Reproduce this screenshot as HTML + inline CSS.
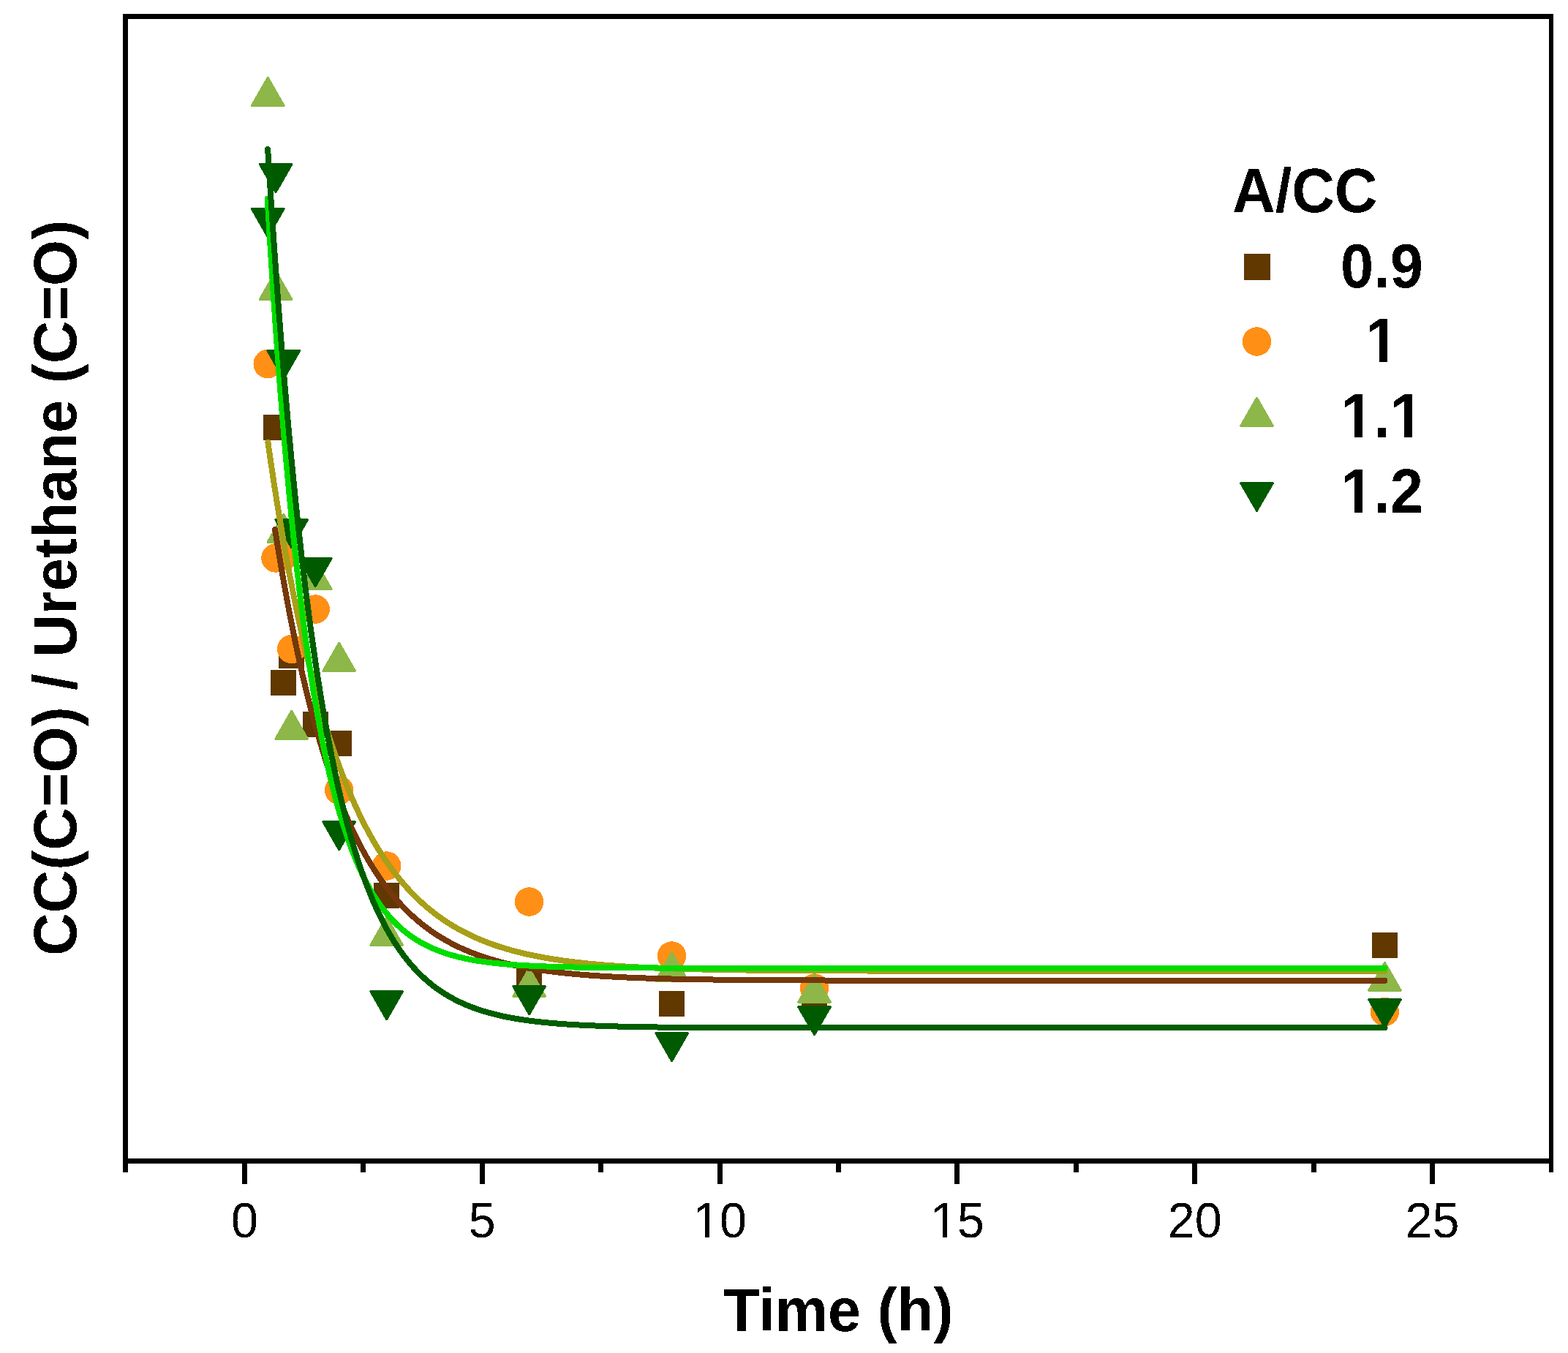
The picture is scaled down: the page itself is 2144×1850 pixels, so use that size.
<!DOCTYPE html>
<html><head><meta charset="utf-8"><title>CC(C=O) / Urethane (C=O) vs Time</title>
<style>
html,body{margin:0;padding:0;background:#fff;}
svg{display:block;}
.b{font-family:"Liberation Sans",Arial,sans-serif;font-weight:bold;font-size:81.2px;fill:#000;}
.tl{font-family:"Liberation Sans",Arial,sans-serif;font-size:66.5px;fill:#000;}
</style></head>
<body>
<svg width="2144" height="1850" viewBox="0 0 2144 1850">
<defs><filter id="bin" filterUnits="userSpaceOnUse" x="0" y="0" width="2144" height="1850"><feComponentTransfer><feFuncA type="discrete" tableValues="0 1"/></feComponentTransfer></filter></defs>
<rect width="2144" height="1850" fill="#fff"/>
<g id="markers" shape-rendering="crispEdges">
<rect x="359.5" y="566.5" width="35.0" height="35.0" fill="#603800"/>
<rect x="370.3" y="916.0" width="35.0" height="35.0" fill="#603800"/>
<rect x="381.2" y="878.5" width="35.0" height="35.0" fill="#603800"/>
<rect x="413.7" y="972.5" width="35.0" height="35.0" fill="#603800"/>
<rect x="446.2" y="999.0" width="35.0" height="35.0" fill="#603800"/>
<rect x="511.2" y="1207.0" width="35.0" height="35.0" fill="#603800"/>
<rect x="706.1" y="1322.5" width="35.0" height="35.0" fill="#603800"/>
<rect x="901.1" y="1354.9" width="35.0" height="35.0" fill="#603800"/>
<rect x="1096.1" y="1340.5" width="35.0" height="35.0" fill="#603800"/>
<rect x="1876.0" y="1275.0" width="35.0" height="35.0" fill="#603800"/>
<circle cx="366.2" cy="497.6" r="19.75" fill="#FF9015"/>
<circle cx="377.0" cy="763.0" r="19.75" fill="#FF9015"/>
<circle cx="387.8" cy="760.5" r="19.75" fill="#FF9015"/>
<circle cx="398.7" cy="887.5" r="19.75" fill="#FF9015"/>
<circle cx="431.2" cy="833.0" r="19.75" fill="#FF9015"/>
<circle cx="463.7" cy="1080.5" r="19.75" fill="#FF9015"/>
<circle cx="528.7" cy="1184.0" r="19.75" fill="#FF9015"/>
<circle cx="723.6" cy="1233.0" r="19.75" fill="#FF9015"/>
<circle cx="918.6" cy="1307.0" r="19.75" fill="#FF9015"/>
<circle cx="1113.6" cy="1351.0" r="19.75" fill="#FF9015"/>
<circle cx="1893.5" cy="1383.5" r="19.75" fill="#FF9015"/>
<polygon points="366.19,105.60 388.66,144.80 343.73,144.80" fill="#8DB748" stroke="#8DB748" stroke-width="2.4" stroke-linejoin="bevel"/>
<polygon points="377.05,370.60 399.51,409.80 354.59,409.80" fill="#8DB748" stroke="#8DB748" stroke-width="2.4" stroke-linejoin="bevel"/>
<polygon points="387.84,702.60 410.30,741.80 365.38,741.80" fill="#8DB748" stroke="#8DB748" stroke-width="2.4" stroke-linejoin="bevel"/>
<polygon points="398.69,971.60 421.15,1010.80 376.23,1010.80" fill="#8DB748" stroke="#8DB748" stroke-width="2.4" stroke-linejoin="bevel"/>
<polygon points="431.18,766.60 453.65,805.80 408.72,805.80" fill="#8DB748" stroke="#8DB748" stroke-width="2.4" stroke-linejoin="bevel"/>
<polygon points="463.68,878.60 486.14,917.80 441.22,917.80" fill="#8DB748" stroke="#8DB748" stroke-width="2.4" stroke-linejoin="bevel"/>
<polygon points="528.67,1253.60 551.13,1292.80 506.21,1292.80" fill="#8DB748" stroke="#8DB748" stroke-width="2.4" stroke-linejoin="bevel"/>
<polygon points="723.64,1323.60 746.10,1362.80 701.18,1362.80" fill="#8DB748" stroke="#8DB748" stroke-width="2.4" stroke-linejoin="bevel"/>
<polygon points="918.61,1302.20 941.07,1341.40 896.15,1341.40" fill="#8DB748" stroke="#8DB748" stroke-width="2.4" stroke-linejoin="bevel"/>
<polygon points="1113.58,1331.60 1136.04,1370.80 1091.12,1370.80" fill="#8DB748" stroke="#8DB748" stroke-width="2.4" stroke-linejoin="bevel"/>
<polygon points="1893.46,1315.60 1915.92,1354.80 1871.00,1354.80" fill="#8DB748" stroke="#8DB748" stroke-width="2.4" stroke-linejoin="bevel"/>
<polygon points="343.73,285.20 388.66,285.20 366.19,324.40" fill="#005A00" stroke="#005A00" stroke-width="2.4" stroke-linejoin="bevel"/>
<polygon points="354.59,224.20 399.51,224.20 377.05,263.40" fill="#005A00" stroke="#005A00" stroke-width="2.4" stroke-linejoin="bevel"/>
<polygon points="365.38,479.20 410.30,479.20 387.84,518.40" fill="#005A00" stroke="#005A00" stroke-width="2.4" stroke-linejoin="bevel"/>
<polygon points="376.23,710.20 421.15,710.20 398.69,749.40" fill="#005A00" stroke="#005A00" stroke-width="2.4" stroke-linejoin="bevel"/>
<polygon points="408.72,763.20 453.65,763.20 431.18,802.40" fill="#005A00" stroke="#005A00" stroke-width="2.4" stroke-linejoin="bevel"/>
<polygon points="441.22,1123.20 486.14,1123.20 463.68,1162.40" fill="#005A00" stroke="#005A00" stroke-width="2.4" stroke-linejoin="bevel"/>
<polygon points="506.21,1355.20 551.13,1355.20 528.67,1394.40" fill="#005A00" stroke="#005A00" stroke-width="2.4" stroke-linejoin="bevel"/>
<polygon points="701.18,1348.20 746.10,1348.20 723.64,1387.40" fill="#005A00" stroke="#005A00" stroke-width="2.4" stroke-linejoin="bevel"/>
<polygon points="896.15,1412.20 941.07,1412.20 918.61,1451.40" fill="#005A00" stroke="#005A00" stroke-width="2.4" stroke-linejoin="bevel"/>
<polygon points="1091.12,1376.20 1136.04,1376.20 1113.58,1415.40" fill="#005A00" stroke="#005A00" stroke-width="2.4" stroke-linejoin="bevel"/>
<polygon points="1871.00,1366.20 1915.92,1366.20 1893.46,1405.40" fill="#005A00" stroke="#005A00" stroke-width="2.4" stroke-linejoin="bevel"/>
</g>
<g id="fits" shape-rendering="crispEdges">
<path d="M366.40,605.00 L367.05,609.55 L367.70,614.07 L368.35,618.57 L369.00,623.03 L369.65,627.47 L370.30,631.88 L370.95,636.26 L371.60,640.61 L372.25,644.94 L372.90,649.24 L373.55,653.51 L374.20,657.75 L374.85,661.97 L375.50,666.17 L376.15,670.33 L376.80,674.47 L377.45,678.58 L378.10,682.67 L378.75,686.73 L379.40,690.77 L380.04,694.78 L380.69,698.76 L381.34,702.72 L381.99,706.66 L382.64,710.57 L383.29,714.46 L383.94,718.32 L384.59,722.15 L385.24,725.97 L385.89,729.76 L386.54,733.52 L387.19,737.26 L387.84,740.98 L388.49,744.67 L389.14,748.35 L389.79,751.99 L390.44,755.62 L391.09,759.22 L391.74,762.80 L392.39,766.36 L393.04,769.89 L393.69,773.41 L394.34,776.90 L394.99,780.36 L395.64,783.81 L396.28,787.23 L396.93,790.64 L397.58,794.02 L398.23,797.38 L398.88,800.72 L399.53,804.04 L400.18,807.34 L400.83,810.61 L401.48,813.87 L402.13,817.10 L402.78,820.32 L403.43,823.51 L404.08,826.69 L404.73,829.84 L405.38,832.98 L406.03,836.09 L406.68,839.19 L407.33,842.26 L407.98,845.32 L408.63,848.36 L409.28,851.38 L409.93,854.38 L410.58,857.36 L411.23,860.32 L411.88,863.26 L412.52,866.19 L413.17,869.09 L413.82,871.98 L414.47,874.85 L415.12,877.70 L415.77,880.54 L416.42,883.35 L417.07,886.15 L417.72,888.93 L418.37,891.69 L419.02,894.44 L419.67,897.17 L420.32,899.88 L420.97,902.57 L421.62,905.25 L422.27,907.91 L422.92,910.55 L423.57,913.18 L424.22,915.79 L424.87,918.38 L425.52,920.96 L426.17,923.52 L426.82,926.07 L427.47,928.60 L428.12,931.11 L428.76,933.61 L429.41,936.09 L430.06,938.55 L430.71,941.00 L431.36,943.44 L432.01,945.86 L432.66,948.26 L433.31,950.65 L433.96,953.03 L434.61,955.39 L435.26,957.73 L435.91,960.06 L436.56,962.38 L437.21,964.68 L437.86,966.96 L438.51,969.23 L439.16,971.49 L439.81,973.73 L440.46,975.96 L441.11,978.18 L441.76,980.38 L442.41,982.57 L443.06,984.74 L443.71,986.90 L444.36,989.05 L445.00,991.18 L445.65,993.30 L446.30,995.40 L446.95,997.50 L447.60,999.58 L448.25,1001.64 L448.90,1003.69 L449.55,1005.73 L450.20,1007.76 L450.85,1009.78 L451.50,1011.78 L452.15,1013.77 L452.80,1015.75 L453.45,1017.71 L454.10,1019.66 L454.75,1021.60 L455.40,1023.53 L456.05,1025.45 L456.70,1027.35 L457.35,1029.24 L458.00,1031.12 L458.65,1032.99 L459.30,1034.84 L459.95,1036.69 L460.60,1038.52 L461.24,1040.34 L461.89,1042.15 L462.54,1043.95 L463.19,1045.74 L463.84,1047.51 L464.49,1049.28 L465.14,1051.03 L465.79,1052.77 L466.44,1054.50 L467.09,1056.22 L467.74,1057.93 L468.39,1059.63 L469.04,1061.32 L469.69,1063.00 L470.34,1064.66 L470.99,1066.32 L471.64,1067.97 L472.29,1069.60 L472.94,1071.23 L473.59,1072.84 L474.24,1074.45 L474.89,1076.04 L475.54,1077.63 L476.19,1079.20 L476.84,1080.77 L477.48,1082.32 L478.13,1083.87 L478.78,1085.40 L479.43,1086.93 L480.08,1088.45 L480.73,1089.95 L481.38,1091.45 L482.03,1092.94 L482.68,1094.42 L483.33,1095.89 L483.98,1097.35 L484.63,1098.80 L485.28,1100.24 L485.93,1101.67 L486.58,1103.09 L487.23,1104.51 L487.88,1105.91 L488.53,1107.31 L489.18,1108.70 L489.83,1110.08 L490.48,1111.45 L491.13,1112.81 L491.78,1114.16 L492.43,1115.51 L493.08,1116.84 L493.72,1118.17 L494.37,1119.49 L495.02,1120.80 L495.67,1122.11 L496.32,1123.40 L496.97,1124.69 L497.62,1125.97 L498.27,1127.24 L498.92,1128.50 L499.57,1129.75 L500.22,1131.00 L500.87,1132.24 L501.52,1133.47 L502.17,1134.69 L502.82,1135.91 L503.47,1137.12 L504.12,1138.32 L504.77,1139.51 L505.42,1140.70 L506.07,1141.87 L506.72,1143.04 L507.37,1144.21 L508.02,1145.36 L508.67,1146.51 L509.32,1147.65 L509.96,1148.79 L510.61,1149.91 L511.26,1151.03 L511.91,1152.15 L512.56,1153.25 L513.21,1154.35 L513.86,1155.44 L514.51,1156.53 L515.16,1157.60 L515.81,1158.68 L516.46,1159.74 L517.11,1160.80 L517.76,1161.85 L518.41,1162.89 L519.06,1163.93 L519.71,1164.96 L520.36,1165.99 L521.01,1167.01 L521.66,1168.02 L522.31,1169.02 L522.96,1170.02 L523.61,1171.02 L524.26,1172.00 L524.91,1172.98 L525.56,1173.96 L526.20,1174.93 L526.85,1175.89 L527.50,1176.85 L528.15,1177.80 L528.80,1178.74 L529.45,1179.68 L530.10,1180.61 L530.75,1181.54 L531.40,1182.46 L532.05,1183.37 L532.70,1184.28 L533.35,1185.19 L534.00,1186.08 L534.65,1186.98 L535.30,1187.86 L535.95,1188.74 L536.60,1189.62 L537.25,1190.49 L537.90,1191.35 L538.55,1192.21 L539.20,1193.06 L539.85,1193.91 L540.50,1194.75 L541.15,1195.59 L541.80,1196.42 L542.44,1197.25 L543.09,1198.07 L543.74,1198.89 L544.39,1199.70 L545.04,1200.51 L545.69,1201.31 L546.34,1202.10 L546.99,1202.90 L547.64,1203.68 L548.29,1204.46 L548.94,1205.24 L549.59,1206.01 L550.24,1206.78 L550.89,1207.54 L551.54,1208.30 L552.19,1209.05 L552.84,1209.80 L553.49,1210.54 L554.14,1211.28 L554.79,1212.01 L555.44,1212.74 L556.09,1213.46 L556.74,1214.18 L557.39,1214.90 L558.04,1215.61 L558.68,1216.31 L559.33,1217.02 L559.98,1217.71 L560.63,1218.41 L561.28,1219.09 L561.93,1219.78 L562.58,1220.46 L563.23,1221.13 L563.88,1221.81 L564.53,1222.47 L565.18,1223.14 L565.83,1223.79 L566.48,1224.45 L567.13,1225.10 L567.78,1225.75 L568.43,1226.39 L569.08,1227.03 L569.73,1227.66 L570.38,1228.29 L571.03,1228.92 L571.68,1229.54 L572.33,1230.16 L572.98,1230.77 L573.63,1231.38 L574.28,1231.99 L574.92,1232.59 L575.57,1233.19 L576.22,1233.79 L576.87,1234.38 L577.52,1234.97 L578.17,1235.55 L578.82,1236.13 L579.47,1236.71 L580.12,1237.28 L580.77,1237.85 L581.42,1238.42 L582.07,1238.98 L582.72,1239.54 L583.37,1240.09 L584.02,1240.65 L584.67,1241.19 L585.32,1241.74 L585.97,1242.28 L586.62,1242.82 L587.27,1243.35 L587.92,1243.89 L588.57,1244.41 L589.22,1244.94 L589.87,1245.46 L590.52,1245.98 L591.16,1246.49 L591.81,1247.00 L592.46,1247.51 L593.11,1248.02 L593.76,1248.52 L594.41,1249.02 L595.06,1249.51 L595.71,1250.01 L596.36,1250.50 L597.01,1250.98 L597.66,1251.47 L598.31,1251.95 L598.96,1252.42 L599.61,1252.90 L600.26,1253.37 L600.91,1253.84 L601.56,1254.30 L602.21,1254.77 L602.86,1255.23 L603.51,1255.68 L604.16,1256.14 L604.81,1256.59 L605.46,1257.04 L606.11,1257.48 L606.76,1257.92 L607.40,1258.36 L608.05,1258.80 L608.70,1259.23 L609.35,1259.67 L610.00,1260.09 L610.65,1260.52 L611.30,1260.94 L611.95,1261.36 L612.60,1261.78 L613.25,1262.20 L613.90,1262.61 L614.55,1263.02 L615.20,1263.43 L615.85,1263.83 L616.50,1264.24 L617.15,1264.64 L617.80,1265.03 L618.45,1265.43 L619.10,1265.82 L619.75,1266.21 L620.40,1266.60 L621.05,1266.98 L621.70,1267.37 L622.35,1267.75 L623.00,1268.12 L623.64,1268.50 L624.29,1268.87 L624.94,1269.24 L625.59,1269.61 L626.24,1269.98 L626.89,1270.34 L627.54,1270.70 L628.19,1271.06 L628.84,1271.42 L629.49,1271.77 L630.14,1272.13 L630.79,1272.48 L631.44,1272.83 L632.09,1273.17 L632.74,1273.51 L633.39,1273.86 L634.04,1274.20 L634.69,1274.53 L635.34,1274.87 L635.99,1275.20 L636.64,1275.53 L637.29,1275.86 L637.94,1276.19 L638.59,1276.51 L639.24,1276.83 L639.88,1277.16 L640.53,1277.47 L641.18,1277.79 L641.83,1278.11 L642.48,1278.42 L643.13,1278.73 L643.78,1279.04 L644.43,1279.34 L645.08,1279.65 L645.73,1279.95 L646.38,1280.25 L647.03,1280.55 L647.68,1280.85 L648.33,1281.14 L648.98,1281.44 L649.63,1281.73 L650.28,1282.02 L650.93,1282.31 L651.58,1282.59 L652.23,1282.88 L652.88,1283.16 L653.53,1283.44 L654.18,1283.72 L654.83,1284.00 L655.48,1284.27 L656.12,1284.55 L656.77,1284.82 L657.42,1285.09 L658.07,1285.36 L658.72,1285.63 L659.37,1285.89 L660.02,1286.15 L660.67,1286.42 L661.32,1286.68 L661.97,1286.93 L662.62,1287.19 L663.27,1287.45 L663.92,1287.70 L664.57,1287.95 L665.22,1288.20 L665.87,1288.45 L666.52,1288.70 L667.17,1288.95 L667.82,1289.19 L668.47,1289.43 L669.12,1289.67 L669.77,1289.91 L670.42,1290.15 L671.07,1290.39 L671.72,1290.63 L672.36,1290.86 L673.01,1291.09 L673.66,1291.32 L674.31,1291.55 L674.96,1291.78 L675.61,1292.01 L676.26,1292.23 L676.91,1292.45 L677.56,1292.68 L678.21,1292.90 L678.86,1293.12 L679.51,1293.34 L680.16,1293.55 L680.81,1293.77 L681.46,1293.98 L682.11,1294.19 L682.76,1294.41 L683.41,1294.62 L684.06,1294.82 L684.71,1295.03 L685.36,1295.24 L686.01,1295.44 L686.66,1295.65 L687.31,1295.85 L687.96,1296.05 L688.60,1296.25 L689.25,1296.45 L689.90,1296.64 L690.55,1296.84 L691.20,1297.03 L691.85,1297.23 L692.50,1297.42 L693.15,1297.61 L693.80,1297.80 L694.45,1297.99 L695.10,1298.18 L695.75,1298.36 L696.40,1298.55 L697.05,1298.73 L697.70,1298.92 L698.35,1299.10 L699.00,1299.28 L699.65,1299.46 L700.30,1299.64 L700.95,1299.81 L701.60,1299.99 L702.25,1300.16 L702.90,1300.34 L703.55,1300.51 L704.20,1300.68 L704.84,1300.85 L705.49,1301.02 L706.14,1301.19 L706.79,1301.36 L707.44,1301.52 L708.09,1301.69 L708.74,1301.85 L709.39,1302.02 L710.04,1302.18 L710.69,1302.34 L711.34,1302.50 L711.99,1302.66 L712.64,1302.82 L713.29,1302.97 L713.94,1303.13 L714.59,1303.28 L715.24,1303.44 L715.89,1303.59 L716.54,1303.74 L717.19,1303.89 L717.84,1304.04 L718.49,1304.19 L719.14,1304.34 L719.79,1304.49 L720.44,1304.64 L721.08,1304.78 L721.73,1304.93 L722.38,1305.07 L723.03,1305.21 L723.68,1305.36 L724.33,1305.50 L730.83,1306.86 L737.32,1308.14 L743.82,1309.34 L750.32,1310.47 L756.81,1311.53 L763.31,1312.52 L769.80,1313.45 L776.30,1314.33 L782.80,1315.15 L789.29,1315.92 L795.79,1316.65 L802.28,1317.33 L808.78,1317.96 L815.28,1318.56 L821.77,1319.13 L828.27,1319.66 L834.76,1320.15 L841.26,1320.62 L847.76,1321.05 L854.25,1321.46 L860.75,1321.85 L867.24,1322.21 L873.74,1322.55 L880.24,1322.87 L886.73,1323.17 L893.23,1323.45 L899.72,1323.71 L906.22,1323.96 L912.72,1324.19 L919.21,1324.41 L925.71,1324.62 L932.20,1324.81 L938.70,1324.99 L945.20,1325.16 L951.69,1325.32 L958.19,1325.47 L964.68,1325.61 L971.18,1325.74 L977.68,1325.86 L984.17,1325.98 L990.67,1326.09 L997.16,1326.19 L1003.66,1326.29 L1010.16,1326.38 L1016.65,1326.46 L1023.15,1326.54 L1029.64,1326.62 L1036.14,1326.69 L1042.64,1326.75 L1049.13,1326.81 L1055.63,1326.87 L1062.12,1326.93 L1068.62,1326.98 L1075.12,1327.02 L1081.61,1327.07 L1088.11,1327.11 L1094.60,1327.15 L1101.10,1327.19 L1107.60,1327.22 L1114.09,1327.26 L1120.59,1327.29 L1127.08,1327.32 L1133.58,1327.34 L1140.08,1327.37 L1146.57,1327.39 L1153.07,1327.42 L1159.56,1327.44 L1166.06,1327.46 L1172.56,1327.47 L1179.05,1327.49 L1185.55,1327.51 L1192.04,1327.52 L1198.54,1327.54 L1205.04,1327.55 L1211.53,1327.56 L1218.03,1327.58 L1224.52,1327.59 L1231.02,1327.60 L1237.52,1327.61 L1244.01,1327.62 L1250.51,1327.63 L1257.00,1327.63 L1263.50,1327.64 L1270.00,1327.65 L1276.49,1327.66 L1282.99,1327.66 L1289.48,1327.67 L1295.98,1327.67 L1302.48,1327.68 L1308.97,1327.68 L1315.47,1327.69 L1321.96,1327.69 L1328.46,1327.70 L1334.96,1327.70 L1341.45,1327.70 L1347.95,1327.71 L1354.44,1327.71 L1360.94,1327.71 L1367.44,1327.72 L1373.93,1327.72 L1380.43,1327.72 L1386.92,1327.72 L1393.42,1327.73 L1399.92,1327.73 L1406.41,1327.73 L1412.91,1327.73 L1419.40,1327.73 L1425.90,1327.74 L1432.40,1327.74 L1438.89,1327.74 L1445.39,1327.74 L1451.88,1327.74 L1458.38,1327.74 L1464.88,1327.74 L1471.37,1327.74 L1477.87,1327.75 L1484.36,1327.75 L1490.86,1327.75 L1497.36,1327.75 L1503.85,1327.75 L1510.35,1327.75 L1516.84,1327.75 L1523.34,1327.75 L1529.84,1327.75 L1536.33,1327.75 L1542.83,1327.75 L1549.32,1327.75 L1555.82,1327.75 L1562.32,1327.75 L1568.81,1327.75 L1575.31,1327.75 L1581.80,1327.75 L1588.30,1327.75 L1594.80,1327.76 L1601.29,1327.76 L1607.79,1327.76 L1614.28,1327.76 L1620.78,1327.76 L1627.28,1327.76 L1633.77,1327.76 L1640.27,1327.76 L1646.76,1327.76 L1653.26,1327.76 L1659.76,1327.76 L1666.25,1327.76 L1672.75,1327.76 L1679.24,1327.76 L1685.74,1327.76 L1692.24,1327.76 L1698.73,1327.76 L1705.23,1327.76 L1711.72,1327.76 L1718.22,1327.76 L1724.72,1327.76 L1731.21,1327.76 L1737.71,1327.76 L1744.20,1327.76 L1750.70,1327.76 L1757.20,1327.76 L1763.69,1327.76 L1770.19,1327.76 L1776.68,1327.76 L1783.18,1327.76 L1789.68,1327.76 L1796.17,1327.76 L1802.67,1327.76 L1809.16,1327.76 L1815.66,1327.76 L1822.16,1327.76 L1828.65,1327.76 L1835.15,1327.76 L1841.64,1327.76 L1848.14,1327.76 L1854.64,1327.76 L1861.13,1327.76 L1867.63,1327.76 L1874.12,1327.76 L1880.62,1327.76 L1887.12,1327.76 L1893.54,1327.76" fill="none" stroke="#A89F18" stroke-width="8" stroke-linecap="round" stroke-linejoin="round"/>
<path d="M376.07,724.00 L376.72,728.13 L377.37,732.24 L378.02,736.31 L378.67,740.36 L379.32,744.39 L379.97,748.38 L380.62,752.35 L381.27,756.30 L381.92,760.21 L382.57,764.10 L383.22,767.97 L383.87,771.80 L384.52,775.62 L385.17,779.40 L385.81,783.16 L386.46,786.90 L387.11,790.61 L387.76,794.30 L388.41,797.96 L389.06,801.60 L389.71,805.21 L390.36,808.80 L391.01,812.36 L391.66,815.90 L392.31,819.42 L392.96,822.91 L393.61,826.38 L394.26,829.83 L394.91,833.25 L395.56,836.65 L396.21,840.03 L396.86,843.39 L397.51,846.72 L398.16,850.03 L398.81,853.32 L399.46,856.58 L400.11,859.83 L400.76,863.05 L401.41,866.25 L402.05,869.43 L402.70,872.59 L403.35,875.72 L404.00,878.84 L404.65,881.94 L405.30,885.01 L405.95,888.06 L406.60,891.10 L407.25,894.11 L407.90,897.10 L408.55,900.08 L409.20,903.03 L409.85,905.96 L410.50,908.87 L411.15,911.77 L411.80,914.64 L412.45,917.50 L413.10,920.33 L413.75,923.15 L414.40,925.95 L415.05,928.73 L415.70,931.49 L416.35,934.23 L417.00,936.96 L417.65,939.66 L418.29,942.35 L418.94,945.02 L419.59,947.67 L420.24,950.30 L420.89,952.92 L421.54,955.52 L422.19,958.10 L422.84,960.66 L423.49,963.21 L424.14,965.74 L424.79,968.25 L425.44,970.75 L426.09,973.23 L426.74,975.69 L427.39,978.14 L428.04,980.57 L428.69,982.98 L429.34,985.38 L429.99,987.76 L430.64,990.12 L431.29,992.47 L431.94,994.81 L432.59,997.13 L433.24,999.43 L433.89,1001.71 L434.53,1003.99 L435.18,1006.24 L435.83,1008.48 L436.48,1010.71 L437.13,1012.92 L437.78,1015.12 L438.43,1017.30 L439.08,1019.47 L439.73,1021.62 L440.38,1023.76 L441.03,1025.88 L441.68,1027.99 L442.33,1030.09 L442.98,1032.17 L443.63,1034.24 L444.28,1036.29 L444.93,1038.33 L445.58,1040.36 L446.23,1042.37 L446.88,1044.37 L447.53,1046.36 L448.18,1048.33 L448.83,1050.29 L449.48,1052.24 L450.13,1054.17 L450.77,1056.09 L451.42,1058.00 L452.07,1059.89 L452.72,1061.77 L453.37,1063.64 L454.02,1065.50 L454.67,1067.34 L455.32,1069.18 L455.97,1071.00 L456.62,1072.80 L457.27,1074.60 L457.92,1076.38 L458.57,1078.15 L459.22,1079.91 L459.87,1081.66 L460.52,1083.40 L461.17,1085.12 L461.82,1086.83 L462.47,1088.54 L463.12,1090.23 L463.77,1091.90 L464.42,1093.57 L465.07,1095.23 L465.72,1096.87 L466.37,1098.51 L467.01,1100.13 L467.66,1101.74 L468.31,1103.34 L468.96,1104.93 L469.61,1106.51 L470.26,1108.08 L470.91,1109.64 L471.56,1111.19 L472.21,1112.73 L472.86,1114.26 L473.51,1115.78 L474.16,1117.28 L474.81,1118.78 L475.46,1120.27 L476.11,1121.75 L476.76,1123.21 L477.41,1124.67 L478.06,1126.12 L478.71,1127.56 L479.36,1128.99 L480.01,1130.40 L480.66,1131.81 L481.31,1133.21 L481.96,1134.60 L482.61,1135.99 L483.25,1137.36 L483.90,1138.72 L484.55,1140.07 L485.20,1141.42 L485.85,1142.75 L486.50,1144.08 L487.15,1145.40 L487.80,1146.71 L488.45,1148.01 L489.10,1149.30 L489.75,1150.58 L490.40,1151.86 L491.05,1153.12 L491.70,1154.38 L492.35,1155.63 L493.00,1156.87 L493.65,1158.10 L494.30,1159.33 L494.95,1160.54 L495.60,1161.75 L496.25,1162.95 L496.90,1164.14 L497.55,1165.32 L498.20,1166.50 L498.85,1167.67 L499.49,1168.83 L500.14,1169.98 L500.79,1171.12 L501.44,1172.26 L502.09,1173.39 L502.74,1174.51 L503.39,1175.62 L504.04,1176.73 L504.69,1177.83 L505.34,1178.92 L505.99,1180.01 L506.64,1181.08 L507.29,1182.15 L507.94,1183.22 L508.59,1184.27 L509.24,1185.32 L509.89,1186.36 L510.54,1187.40 L511.19,1188.42 L511.84,1189.44 L512.49,1190.46 L513.14,1191.46 L513.79,1192.46 L514.44,1193.46 L515.09,1194.45 L515.73,1195.43 L516.38,1196.40 L517.03,1197.37 L517.68,1198.33 L518.33,1199.28 L518.98,1200.23 L519.63,1201.17 L520.28,1202.11 L520.93,1203.04 L521.58,1203.96 L522.23,1204.88 L522.88,1205.79 L523.53,1206.69 L524.18,1207.59 L524.83,1208.48 L525.48,1209.37 L526.13,1210.25 L526.78,1211.12 L527.43,1211.99 L528.08,1212.85 L528.73,1213.71 L529.38,1214.56 L530.03,1215.41 L530.68,1216.25 L531.33,1217.08 L531.97,1217.91 L532.62,1218.73 L533.27,1219.55 L533.92,1220.36 L534.57,1221.17 L535.22,1221.97 L535.87,1222.77 L536.52,1223.56 L537.17,1224.34 L537.82,1225.12 L538.47,1225.90 L539.12,1226.67 L539.77,1227.43 L540.42,1228.19 L541.07,1228.95 L541.72,1229.70 L542.37,1230.44 L543.02,1231.18 L543.67,1231.91 L544.32,1232.64 L544.97,1233.37 L545.62,1234.09 L546.27,1234.80 L546.92,1235.51 L547.57,1236.22 L548.21,1236.92 L548.86,1237.61 L549.51,1238.30 L550.16,1238.99 L550.81,1239.67 L551.46,1240.35 L552.11,1241.02 L552.76,1241.69 L553.41,1242.35 L554.06,1243.01 L554.71,1243.67 L555.36,1244.32 L556.01,1244.97 L556.66,1245.61 L557.31,1246.24 L557.96,1246.88 L558.61,1247.51 L559.26,1248.13 L559.91,1248.75 L560.56,1249.37 L561.21,1249.98 L561.86,1250.59 L562.51,1251.19 L563.16,1251.79 L563.81,1252.39 L564.45,1252.98 L565.10,1253.57 L565.75,1254.15 L566.40,1254.73 L567.05,1255.31 L567.70,1255.88 L568.35,1256.45 L569.00,1257.02 L569.65,1257.58 L570.30,1258.14 L570.95,1258.69 L571.60,1259.24 L572.25,1259.79 L572.90,1260.33 L573.55,1260.87 L574.20,1261.40 L574.85,1261.93 L575.50,1262.46 L576.15,1262.99 L576.80,1263.51 L577.45,1264.03 L578.10,1264.54 L578.75,1265.05 L579.40,1265.56 L580.05,1266.06 L580.69,1266.56 L581.34,1267.06 L581.99,1267.55 L582.64,1268.04 L583.29,1268.53 L583.94,1269.01 L584.59,1269.50 L585.24,1269.97 L585.89,1270.45 L586.54,1270.92 L587.19,1271.39 L587.84,1271.85 L588.49,1272.31 L589.14,1272.77 L589.79,1273.23 L590.44,1273.68 L591.09,1274.13 L591.74,1274.58 L592.39,1275.02 L593.04,1275.46 L593.69,1275.90 L594.34,1276.33 L594.99,1276.76 L595.64,1277.19 L596.29,1277.62 L596.93,1278.04 L597.58,1278.46 L598.23,1278.88 L598.88,1279.29 L599.53,1279.71 L600.18,1280.11 L600.83,1280.52 L601.48,1280.92 L602.13,1281.33 L602.78,1281.72 L603.43,1282.12 L604.08,1282.51 L604.73,1282.90 L605.38,1283.29 L606.03,1283.68 L606.68,1284.06 L607.33,1284.44 L607.98,1284.82 L608.63,1285.19 L609.28,1285.56 L609.93,1285.93 L610.58,1286.30 L611.23,1286.66 L611.88,1287.03 L612.53,1287.39 L613.17,1287.74 L613.82,1288.10 L614.47,1288.45 L615.12,1288.80 L615.77,1289.15 L616.42,1289.50 L617.07,1289.84 L617.72,1290.18 L618.37,1290.52 L619.02,1290.86 L619.67,1291.19 L620.32,1291.52 L620.97,1291.85 L621.62,1292.18 L622.27,1292.51 L622.92,1292.83 L623.57,1293.15 L624.22,1293.47 L624.87,1293.79 L625.52,1294.10 L626.17,1294.41 L626.82,1294.73 L627.47,1295.03 L628.12,1295.34 L628.77,1295.64 L629.41,1295.95 L630.06,1296.25 L630.71,1296.55 L631.36,1296.84 L632.01,1297.14 L632.66,1297.43 L633.31,1297.72 L633.96,1298.01 L634.61,1298.29 L635.26,1298.58 L635.91,1298.86 L636.56,1299.14 L637.21,1299.42 L637.86,1299.70 L638.51,1299.97 L639.16,1300.25 L639.81,1300.52 L640.46,1300.79 L641.11,1301.05 L641.76,1301.32 L642.41,1301.58 L643.06,1301.85 L643.71,1302.11 L644.36,1302.37 L645.01,1302.62 L645.65,1302.88 L646.30,1303.13 L646.95,1303.39 L647.60,1303.64 L648.25,1303.88 L648.90,1304.13 L649.55,1304.38 L650.20,1304.62 L650.85,1304.86 L651.50,1305.10 L652.15,1305.34 L652.80,1305.58 L653.45,1305.82 L654.10,1306.05 L654.75,1306.28 L655.40,1306.51 L656.05,1306.74 L656.70,1306.97 L657.35,1307.20 L658.00,1307.42 L658.65,1307.65 L659.30,1307.87 L659.95,1308.09 L660.60,1308.31 L661.25,1308.52 L661.89,1308.74 L662.54,1308.95 L663.19,1309.17 L663.84,1309.38 L664.49,1309.59 L665.14,1309.80 L665.79,1310.01 L666.44,1310.21 L667.09,1310.42 L667.74,1310.62 L668.39,1310.82 L669.04,1311.02 L669.69,1311.22 L670.34,1311.42 L670.99,1311.62 L671.64,1311.81 L672.29,1312.01 L672.94,1312.20 L673.59,1312.39 L674.24,1312.58 L674.89,1312.77 L675.54,1312.96 L676.19,1313.14 L676.84,1313.33 L677.49,1313.51 L678.13,1313.69 L678.78,1313.88 L679.43,1314.06 L680.08,1314.23 L680.73,1314.41 L681.38,1314.59 L682.03,1314.76 L682.68,1314.94 L683.33,1315.11 L683.98,1315.28 L684.63,1315.45 L685.28,1315.62 L685.93,1315.79 L686.58,1315.96 L687.23,1316.13 L687.88,1316.29 L688.53,1316.45 L689.18,1316.62 L689.83,1316.78 L690.48,1316.94 L691.13,1317.10 L691.78,1317.26 L692.43,1317.42 L693.08,1317.57 L693.73,1317.73 L694.37,1317.88 L695.02,1318.03 L695.67,1318.19 L696.32,1318.34 L696.97,1318.49 L697.62,1318.64 L698.27,1318.79 L698.92,1318.93 L699.57,1319.08 L700.22,1319.22 L700.87,1319.37 L701.52,1319.51 L702.17,1319.65 L702.82,1319.80 L703.47,1319.94 L704.12,1320.08 L704.77,1320.21 L705.42,1320.35 L706.07,1320.49 L706.72,1320.62 L707.37,1320.76 L708.02,1320.89 L708.67,1321.03 L709.32,1321.16 L709.97,1321.29 L710.61,1321.42 L711.26,1321.55 L711.91,1321.68 L712.56,1321.81 L713.21,1321.93 L713.86,1322.06 L714.51,1322.19 L715.16,1322.31 L715.81,1322.43 L716.46,1322.56 L717.11,1322.68 L717.76,1322.80 L718.41,1322.92 L719.06,1323.04 L719.71,1323.16 L720.36,1323.28 L721.01,1323.39 L721.66,1323.51 L722.31,1323.63 L722.96,1323.74 L723.61,1323.85 L724.26,1323.97 L724.91,1324.08 L731.40,1325.16 L737.90,1326.18 L744.39,1327.13 L750.89,1328.01 L757.39,1328.84 L763.88,1329.62 L770.38,1330.34 L776.87,1331.02 L783.37,1331.65 L789.87,1332.24 L796.36,1332.80 L802.86,1333.32 L809.35,1333.80 L815.85,1334.25 L822.35,1334.68 L828.84,1335.07 L835.34,1335.44 L841.83,1335.79 L848.33,1336.11 L854.83,1336.41 L861.32,1336.70 L867.82,1336.96 L874.31,1337.21 L880.81,1337.44 L887.31,1337.65 L893.80,1337.86 L900.30,1338.04 L906.79,1338.22 L913.29,1338.39 L919.79,1338.54 L926.28,1338.68 L932.78,1338.82 L939.27,1338.95 L945.77,1339.06 L952.27,1339.17 L958.76,1339.28 L965.26,1339.37 L971.75,1339.46 L978.25,1339.55 L984.75,1339.63 L991.24,1339.70 L997.74,1339.77 L1004.23,1339.83 L1010.73,1339.89 L1017.23,1339.95 L1023.72,1340.00 L1030.22,1340.05 L1036.71,1340.10 L1043.21,1340.14 L1049.71,1340.18 L1056.20,1340.22 L1062.70,1340.25 L1069.19,1340.29 L1075.69,1340.32 L1082.19,1340.35 L1088.68,1340.37 L1095.18,1340.40 L1101.67,1340.42 L1108.17,1340.44 L1114.67,1340.46 L1121.16,1340.48 L1127.66,1340.50 L1134.15,1340.52 L1140.65,1340.53 L1147.15,1340.55 L1153.64,1340.56 L1160.14,1340.58 L1166.63,1340.59 L1173.13,1340.60 L1179.63,1340.61 L1186.12,1340.62 L1192.62,1340.63 L1199.11,1340.64 L1205.61,1340.64 L1212.11,1340.65 L1218.60,1340.66 L1225.10,1340.67 L1231.59,1340.67 L1238.09,1340.68 L1244.59,1340.68 L1251.08,1340.69 L1257.58,1340.69 L1264.07,1340.70 L1270.57,1340.70 L1277.07,1340.70 L1283.56,1340.71 L1290.06,1340.71 L1296.55,1340.72 L1303.05,1340.72 L1309.55,1340.72 L1316.04,1340.72 L1322.54,1340.73 L1329.03,1340.73 L1335.53,1340.73 L1342.03,1340.73 L1348.52,1340.73 L1355.02,1340.74 L1361.51,1340.74 L1368.01,1340.74 L1374.51,1340.74 L1381.00,1340.74 L1387.50,1340.74 L1393.99,1340.74 L1400.49,1340.74 L1406.99,1340.75 L1413.48,1340.75 L1419.98,1340.75 L1426.47,1340.75 L1432.97,1340.75 L1439.47,1340.75 L1445.96,1340.75 L1452.46,1340.75 L1458.95,1340.75 L1465.45,1340.75 L1471.95,1340.75 L1478.44,1340.75 L1484.94,1340.75 L1491.43,1340.75 L1497.93,1340.75 L1504.43,1340.75 L1510.92,1340.76 L1517.42,1340.76 L1523.91,1340.76 L1530.41,1340.76 L1536.91,1340.76 L1543.40,1340.76 L1549.90,1340.76 L1556.39,1340.76 L1562.89,1340.76 L1569.39,1340.76 L1575.88,1340.76 L1582.38,1340.76 L1588.87,1340.76 L1595.37,1340.76 L1601.87,1340.76 L1608.36,1340.76 L1614.86,1340.76 L1621.35,1340.76 L1627.85,1340.76 L1634.35,1340.76 L1640.84,1340.76 L1647.34,1340.76 L1653.83,1340.76 L1660.33,1340.76 L1666.83,1340.76 L1673.32,1340.76 L1679.82,1340.76 L1686.31,1340.76 L1692.81,1340.76 L1699.31,1340.76 L1705.80,1340.76 L1712.30,1340.76 L1718.79,1340.76 L1725.29,1340.76 L1731.79,1340.76 L1738.28,1340.76 L1744.78,1340.76 L1751.27,1340.76 L1757.77,1340.76 L1764.27,1340.76 L1770.76,1340.76 L1777.26,1340.76 L1783.75,1340.76 L1790.25,1340.76 L1796.75,1340.76 L1803.24,1340.76 L1809.74,1340.76 L1816.23,1340.76 L1822.73,1340.76 L1829.23,1340.76 L1835.72,1340.76 L1842.22,1340.76 L1848.71,1340.76 L1855.21,1340.76 L1861.71,1340.76 L1868.20,1340.76 L1874.70,1340.76 L1881.19,1340.76 L1887.69,1340.76 L1893.54,1340.76" fill="none" stroke="#75380A" stroke-width="8" stroke-linecap="round" stroke-linejoin="round"/>
<path d="M365.67,272.00 L366.32,283.02 L366.97,293.93 L367.62,304.72 L368.27,315.41 L368.92,325.97 L369.57,336.43 L370.22,346.78 L370.87,357.02 L371.52,367.15 L372.17,377.18 L372.82,387.10 L373.47,396.91 L374.12,406.63 L374.77,416.24 L375.42,425.75 L376.06,435.16 L376.71,444.48 L377.36,453.69 L378.01,462.81 L378.66,471.84 L379.31,480.76 L379.96,489.60 L380.61,498.34 L381.26,506.99 L381.91,515.55 L382.56,524.02 L383.21,532.41 L383.86,540.70 L384.51,548.91 L385.16,557.03 L385.81,565.06 L386.46,573.01 L387.11,580.88 L387.76,588.67 L388.41,596.37 L389.06,604.00 L389.71,611.54 L390.36,619.00 L391.01,626.39 L391.66,633.70 L392.30,640.93 L392.95,648.09 L393.60,655.17 L394.25,662.18 L394.90,669.11 L395.55,675.97 L396.20,682.76 L396.85,689.48 L397.50,696.13 L398.15,702.70 L398.80,709.21 L399.45,715.65 L400.10,722.03 L400.75,728.33 L401.40,734.57 L402.05,740.75 L402.70,746.86 L403.35,752.90 L404.00,758.89 L404.65,764.81 L405.30,770.66 L405.95,776.46 L406.60,782.20 L407.25,787.87 L407.90,793.49 L408.54,799.05 L409.19,804.54 L409.84,809.99 L410.49,815.37 L411.14,820.70 L411.79,825.97 L412.44,831.19 L413.09,836.35 L413.74,841.46 L414.39,846.51 L415.04,851.51 L415.69,856.46 L416.34,861.36 L416.99,866.21 L417.64,871.00 L418.29,875.75 L418.94,880.44 L419.59,885.09 L420.24,889.68 L420.89,894.23 L421.54,898.73 L422.19,903.19 L422.84,907.60 L423.49,911.96 L424.14,916.27 L424.78,920.54 L425.43,924.77 L426.08,928.95 L426.73,933.09 L427.38,937.18 L428.03,941.23 L428.68,945.24 L429.33,949.21 L429.98,953.13 L430.63,957.02 L431.28,960.86 L431.93,964.66 L432.58,968.43 L433.23,972.15 L433.88,975.83 L434.53,979.48 L435.18,983.09 L435.83,986.66 L436.48,990.19 L437.13,993.69 L437.78,997.14 L438.43,1000.57 L439.08,1003.95 L439.73,1007.31 L440.38,1010.62 L441.02,1013.90 L441.67,1017.15 L442.32,1020.36 L442.97,1023.54 L443.62,1026.69 L444.27,1029.80 L444.92,1032.88 L445.57,1035.93 L446.22,1038.95 L446.87,1041.93 L447.52,1044.88 L448.17,1047.81 L448.82,1050.70 L449.47,1053.56 L450.12,1056.39 L450.77,1059.19 L451.42,1061.96 L452.07,1064.71 L452.72,1067.42 L453.37,1070.11 L454.02,1072.77 L454.67,1075.40 L455.32,1078.00 L455.97,1080.57 L456.62,1083.12 L457.26,1085.64 L457.91,1088.14 L458.56,1090.61 L459.21,1093.05 L459.86,1095.47 L460.51,1097.86 L461.16,1100.23 L461.81,1102.57 L462.46,1104.89 L463.11,1107.18 L463.76,1109.45 L464.41,1111.69 L465.06,1113.92 L465.71,1116.11 L466.36,1118.29 L467.01,1120.44 L467.66,1122.57 L468.31,1124.68 L468.96,1126.77 L469.61,1128.83 L470.26,1130.87 L470.91,1132.89 L471.56,1134.89 L472.21,1136.87 L472.86,1138.83 L473.50,1140.77 L474.15,1142.69 L474.80,1144.58 L475.45,1146.46 L476.10,1148.32 L476.75,1150.16 L477.40,1151.97 L478.05,1153.77 L478.70,1155.56 L479.35,1157.32 L480.00,1159.06 L480.65,1160.79 L481.30,1162.49 L481.95,1164.18 L482.60,1165.86 L483.25,1167.51 L483.90,1169.15 L484.55,1170.77 L485.20,1172.37 L485.85,1173.96 L486.50,1175.52 L487.15,1177.08 L487.80,1178.61 L488.45,1180.13 L489.10,1181.64 L489.74,1183.13 L490.39,1184.60 L491.04,1186.06 L491.69,1187.50 L492.34,1188.93 L492.99,1190.34 L493.64,1191.74 L494.29,1193.12 L494.94,1194.49 L495.59,1195.84 L496.24,1197.18 L496.89,1198.51 L497.54,1199.82 L498.19,1201.12 L498.84,1202.41 L499.49,1203.68 L500.14,1204.93 L500.79,1206.18 L501.44,1207.41 L502.09,1208.63 L502.74,1209.84 L503.39,1211.03 L504.04,1212.21 L504.69,1213.38 L505.34,1214.53 L505.98,1215.68 L506.63,1216.81 L507.28,1217.93 L507.93,1219.04 L508.58,1220.14 L509.23,1221.22 L509.88,1222.29 L510.53,1223.36 L511.18,1224.41 L511.83,1225.45 L512.48,1226.48 L513.13,1227.50 L513.78,1228.51 L514.43,1229.50 L515.08,1230.49 L515.73,1231.47 L516.38,1232.43 L517.03,1233.39 L517.68,1234.34 L518.33,1235.27 L518.98,1236.20 L519.63,1237.12 L520.28,1238.02 L520.93,1238.92 L521.58,1239.81 L522.22,1240.69 L522.87,1241.56 L523.52,1242.42 L524.17,1243.27 L524.82,1244.11 L525.47,1244.95 L526.12,1245.77 L526.77,1246.59 L527.42,1247.40 L528.07,1248.20 L528.72,1248.99 L529.37,1249.77 L530.02,1250.55 L530.67,1251.31 L531.32,1252.07 L531.97,1252.82 L532.62,1253.57 L533.27,1254.30 L533.92,1255.03 L534.57,1255.75 L535.22,1256.46 L535.87,1257.16 L536.52,1257.86 L537.17,1258.55 L537.82,1259.23 L538.46,1259.91 L539.11,1260.58 L539.76,1261.24 L540.41,1261.89 L541.06,1262.54 L541.71,1263.18 L542.36,1263.82 L543.01,1264.44 L543.66,1265.06 L544.31,1265.68 L544.96,1266.29 L545.61,1266.89 L546.26,1267.48 L546.91,1268.07 L547.56,1268.66 L548.21,1269.23 L548.86,1269.80 L549.51,1270.37 L550.16,1270.93 L550.81,1271.48 L551.46,1272.03 L552.11,1272.57 L552.76,1273.10 L553.41,1273.63 L554.06,1274.16 L554.70,1274.68 L555.35,1275.19 L556.00,1275.70 L556.65,1276.20 L557.30,1276.70 L557.95,1277.19 L558.60,1277.68 L559.25,1278.16 L559.90,1278.64 L560.55,1279.11 L561.20,1279.58 L561.85,1280.04 L562.50,1280.50 L563.15,1280.95 L563.80,1281.40 L564.45,1281.84 L565.10,1282.28 L565.75,1282.71 L566.40,1283.14 L567.05,1283.57 L567.70,1283.99 L568.35,1284.40 L569.00,1284.82 L569.65,1285.22 L570.30,1285.63 L570.94,1286.03 L571.59,1286.42 L572.24,1286.81 L572.89,1287.20 L573.54,1287.58 L574.19,1287.96 L574.84,1288.33 L575.49,1288.70 L576.14,1289.07 L576.79,1289.43 L577.44,1289.79 L578.09,1290.15 L578.74,1290.50 L579.39,1290.85 L580.04,1291.19 L580.69,1291.53 L581.34,1291.87 L581.99,1292.20 L582.64,1292.53 L583.29,1292.86 L583.94,1293.18 L584.59,1293.50 L585.24,1293.82 L585.89,1294.13 L586.54,1294.44 L587.18,1294.75 L587.83,1295.05 L588.48,1295.35 L589.13,1295.65 L589.78,1295.94 L590.43,1296.23 L591.08,1296.52 L591.73,1296.80 L592.38,1297.08 L593.03,1297.36 L593.68,1297.64 L594.33,1297.91 L594.98,1298.18 L595.63,1298.45 L596.28,1298.71 L596.93,1298.98 L597.58,1299.23 L598.23,1299.49 L598.88,1299.74 L599.53,1300.00 L600.18,1300.24 L600.83,1300.49 L601.48,1300.73 L602.13,1300.97 L602.78,1301.21 L603.42,1301.45 L604.07,1301.68 L604.72,1301.91 L605.37,1302.14 L606.02,1302.36 L606.67,1302.59 L607.32,1302.81 L607.97,1303.03 L608.62,1303.24 L609.27,1303.46 L609.92,1303.67 L610.57,1303.88 L611.22,1304.09 L611.87,1304.29 L612.52,1304.50 L613.17,1304.70 L613.82,1304.90 L614.47,1305.09 L615.12,1305.29 L615.77,1305.48 L616.42,1305.67 L617.07,1305.86 L617.72,1306.05 L618.37,1306.23 L619.02,1306.41 L619.66,1306.60 L620.31,1306.77 L620.96,1306.95 L621.61,1307.13 L622.26,1307.30 L622.91,1307.47 L623.56,1307.64 L624.21,1307.81 L624.86,1307.98 L625.51,1308.14 L626.16,1308.30 L626.81,1308.47 L627.46,1308.62 L628.11,1308.78 L628.76,1308.94 L629.41,1309.09 L630.06,1309.25 L630.71,1309.40 L631.36,1309.55 L632.01,1309.70 L632.66,1309.84 L633.31,1309.99 L633.96,1310.13 L634.61,1310.27 L635.26,1310.41 L635.90,1310.55 L636.55,1310.69 L637.20,1310.83 L637.85,1310.96 L638.50,1311.09 L639.15,1311.23 L639.80,1311.36 L640.45,1311.49 L641.10,1311.61 L641.75,1311.74 L642.40,1311.86 L643.05,1311.99 L643.70,1312.11 L644.35,1312.23 L645.00,1312.35 L645.65,1312.47 L646.30,1312.59 L646.95,1312.70 L647.60,1312.82 L648.25,1312.93 L648.90,1313.05 L649.55,1313.16 L650.20,1313.27 L650.85,1313.38 L651.50,1313.49 L652.14,1313.59 L652.79,1313.70 L653.44,1313.80 L654.09,1313.91 L654.74,1314.01 L655.39,1314.11 L656.04,1314.21 L656.69,1314.31 L657.34,1314.41 L657.99,1314.50 L658.64,1314.60 L659.29,1314.70 L659.94,1314.79 L660.59,1314.88 L661.24,1314.98 L661.89,1315.07 L662.54,1315.16 L663.19,1315.25 L663.84,1315.34 L664.49,1315.42 L665.14,1315.51 L665.79,1315.59 L666.44,1315.68 L667.09,1315.76 L667.74,1315.85 L668.38,1315.93 L669.03,1316.01 L669.68,1316.09 L670.33,1316.17 L670.98,1316.25 L671.63,1316.33 L672.28,1316.40 L672.93,1316.48 L673.58,1316.56 L674.23,1316.63 L674.88,1316.70 L675.53,1316.78 L676.18,1316.85 L676.83,1316.92 L677.48,1316.99 L678.13,1317.06 L678.78,1317.13 L679.43,1317.20 L680.08,1317.27 L680.73,1317.33 L681.38,1317.40 L682.03,1317.47 L682.68,1317.53 L683.33,1317.60 L683.98,1317.66 L684.62,1317.72 L685.27,1317.79 L685.92,1317.85 L686.57,1317.91 L687.22,1317.97 L687.87,1318.03 L688.52,1318.09 L689.17,1318.15 L689.82,1318.21 L690.47,1318.26 L691.12,1318.32 L691.77,1318.38 L692.42,1318.43 L693.07,1318.49 L693.72,1318.54 L694.37,1318.59 L695.02,1318.65 L695.67,1318.70 L696.32,1318.75 L696.97,1318.80 L697.62,1318.86 L698.27,1318.91 L698.92,1318.96 L699.57,1319.01 L700.22,1319.05 L700.86,1319.10 L701.51,1319.15 L702.16,1319.20 L702.81,1319.25 L703.46,1319.29 L704.11,1319.34 L704.76,1319.38 L705.41,1319.43 L706.06,1319.47 L706.71,1319.52 L707.36,1319.56 L708.01,1319.60 L708.66,1319.65 L709.31,1319.69 L709.96,1319.73 L710.61,1319.77 L711.26,1319.81 L711.91,1319.85 L712.56,1319.89 L713.21,1319.93 L713.86,1319.97 L714.51,1320.01 L715.16,1320.05 L715.81,1320.09 L716.46,1320.13 L717.10,1320.16 L717.75,1320.20 L718.40,1320.24 L719.05,1320.27 L719.70,1320.31 L720.35,1320.34 L721.00,1320.38 L721.65,1320.41 L722.30,1320.45 L722.95,1320.48 L723.60,1320.51 L724.25,1320.55 L724.90,1320.58 L731.40,1320.89 L737.89,1321.17 L744.39,1321.42 L750.88,1321.65 L757.38,1321.85 L763.88,1322.03 L770.37,1322.20 L776.87,1322.35 L783.36,1322.48 L789.86,1322.60 L796.36,1322.71 L802.85,1322.80 L809.35,1322.89 L815.84,1322.97 L822.34,1323.04 L828.84,1323.11 L835.33,1323.16 L841.83,1323.21 L848.32,1323.26 L854.82,1323.30 L861.32,1323.34 L867.81,1323.37 L874.31,1323.41 L880.80,1323.43 L887.30,1323.46 L893.80,1323.48 L900.29,1323.50 L906.79,1323.52 L913.28,1323.53 L919.78,1323.55 L926.28,1323.56 L932.77,1323.57 L939.27,1323.58 L945.76,1323.59 L952.26,1323.60 L958.76,1323.61 L965.25,1323.62 L971.75,1323.62 L978.24,1323.63 L984.74,1323.63 L991.24,1323.64 L997.73,1323.64 L1004.23,1323.65 L1010.72,1323.65 L1017.22,1323.65 L1023.72,1323.66 L1030.21,1323.66 L1036.71,1323.66 L1043.20,1323.66 L1049.70,1323.66 L1056.20,1323.67 L1062.69,1323.67 L1069.19,1323.67 L1075.68,1323.67 L1082.18,1323.67 L1088.68,1323.67 L1095.17,1323.67 L1101.67,1323.67 L1108.16,1323.67 L1114.66,1323.67 L1121.16,1323.67 L1127.65,1323.68 L1134.15,1323.68 L1140.64,1323.68 L1147.14,1323.68 L1153.64,1323.68 L1160.13,1323.68 L1166.63,1323.68 L1173.12,1323.68 L1179.62,1323.68 L1186.12,1323.68 L1192.61,1323.68 L1199.11,1323.68 L1205.60,1323.68 L1212.10,1323.68 L1218.60,1323.68 L1225.09,1323.68 L1231.59,1323.68 L1238.08,1323.68 L1244.58,1323.68 L1251.08,1323.68 L1257.57,1323.68 L1264.07,1323.68 L1270.56,1323.68 L1277.06,1323.68 L1283.56,1323.68 L1290.05,1323.68 L1296.55,1323.68 L1303.04,1323.68 L1309.54,1323.68 L1316.04,1323.68 L1322.53,1323.68 L1329.03,1323.68 L1335.52,1323.68 L1342.02,1323.68 L1348.52,1323.68 L1355.01,1323.68 L1361.51,1323.68 L1368.00,1323.68 L1374.50,1323.68 L1381.00,1323.68 L1387.49,1323.68 L1393.99,1323.68 L1400.48,1323.68 L1406.98,1323.68 L1413.48,1323.68 L1419.97,1323.68 L1426.47,1323.68 L1432.96,1323.68 L1439.46,1323.68 L1445.96,1323.68 L1452.45,1323.68 L1458.95,1323.68 L1465.44,1323.68 L1471.94,1323.68 L1478.44,1323.68 L1484.93,1323.68 L1491.43,1323.68 L1497.92,1323.68 L1504.42,1323.68 L1510.92,1323.68 L1517.41,1323.68 L1523.91,1323.68 L1530.40,1323.68 L1536.90,1323.68 L1543.40,1323.68 L1549.89,1323.68 L1556.39,1323.68 L1562.88,1323.68 L1569.38,1323.68 L1575.88,1323.68 L1582.37,1323.68 L1588.87,1323.68 L1595.36,1323.68 L1601.86,1323.68 L1608.36,1323.68 L1614.85,1323.68 L1621.35,1323.68 L1627.84,1323.68 L1634.34,1323.68 L1640.84,1323.68 L1647.33,1323.68 L1653.83,1323.68 L1660.32,1323.68 L1666.82,1323.68 L1673.32,1323.68 L1679.81,1323.68 L1686.31,1323.68 L1692.80,1323.68 L1699.30,1323.68 L1705.80,1323.68 L1712.29,1323.68 L1718.79,1323.68 L1725.28,1323.68 L1731.78,1323.68 L1738.28,1323.68 L1744.77,1323.68 L1751.27,1323.68 L1757.76,1323.68 L1764.26,1323.68 L1770.76,1323.68 L1777.25,1323.68 L1783.75,1323.68 L1790.24,1323.68 L1796.74,1323.68 L1803.24,1323.68 L1809.73,1323.68 L1816.23,1323.68 L1822.72,1323.68 L1829.22,1323.68 L1835.72,1323.68 L1842.21,1323.68 L1848.71,1323.68 L1855.20,1323.68 L1861.70,1323.68 L1868.20,1323.68 L1874.69,1323.68 L1881.19,1323.68 L1887.68,1323.68 L1893.54,1323.68" fill="none" stroke="#00DD00" stroke-width="8" stroke-linecap="round" stroke-linejoin="round"/>
<path d="M366.13,204.00 L366.78,214.44 L367.43,224.79 L368.08,235.04 L368.73,245.21 L369.38,255.29 L370.03,265.28 L370.68,275.19 L371.33,285.01 L371.98,294.74 L372.63,304.39 L373.28,313.96 L373.93,323.44 L374.58,332.84 L375.23,342.16 L375.88,351.40 L376.53,360.56 L377.17,369.64 L377.82,378.64 L378.47,387.56 L379.12,396.40 L379.77,405.17 L380.42,413.86 L381.07,422.47 L381.72,431.01 L382.37,439.48 L383.02,447.87 L383.67,456.19 L384.32,464.44 L384.97,472.61 L385.62,480.72 L386.27,488.75 L386.92,496.72 L387.57,504.61 L388.22,512.44 L388.87,520.20 L389.52,527.89 L390.17,535.51 L390.82,543.07 L391.47,550.56 L392.12,557.99 L392.77,565.35 L393.41,572.65 L394.06,579.89 L394.71,587.06 L395.36,594.17 L396.01,601.22 L396.66,608.20 L397.31,615.13 L397.96,622.00 L398.61,628.80 L399.26,635.55 L399.91,642.24 L400.56,648.87 L401.21,655.44 L401.86,661.96 L402.51,668.42 L403.16,674.82 L403.81,681.17 L404.46,687.46 L405.11,693.70 L405.76,699.89 L406.41,706.02 L407.06,712.09 L407.71,718.12 L408.36,724.09 L409.01,730.01 L409.65,735.88 L410.30,741.69 L410.95,747.46 L411.60,753.18 L412.25,758.84 L412.90,764.46 L413.55,770.03 L414.20,775.55 L414.85,781.02 L415.50,786.45 L416.15,791.83 L416.80,797.16 L417.45,802.44 L418.10,807.68 L418.75,812.87 L419.40,818.02 L420.05,823.13 L420.70,828.19 L421.35,833.20 L422.00,838.17 L422.65,843.10 L423.30,847.99 L423.95,852.83 L424.60,857.63 L425.25,862.39 L425.89,867.11 L426.54,871.79 L427.19,876.42 L427.84,881.02 L428.49,885.57 L429.14,890.09 L429.79,894.57 L430.44,899.01 L431.09,903.41 L431.74,907.77 L432.39,912.09 L433.04,916.38 L433.69,920.63 L434.34,924.84 L434.99,929.02 L435.64,933.16 L436.29,937.26 L436.94,941.33 L437.59,945.36 L438.24,949.36 L438.89,953.32 L439.54,957.25 L440.19,961.14 L440.84,965.00 L441.49,968.83 L442.13,972.62 L442.78,976.38 L443.43,980.11 L444.08,983.80 L444.73,987.47 L445.38,991.10 L446.03,994.70 L446.68,998.27 L447.33,1001.81 L447.98,1005.31 L448.63,1008.79 L449.28,1012.24 L449.93,1015.65 L450.58,1019.04 L451.23,1022.40 L451.88,1025.72 L452.53,1029.02 L453.18,1032.29 L453.83,1035.53 L454.48,1038.75 L455.13,1041.93 L455.78,1045.09 L456.43,1048.22 L457.08,1051.33 L457.73,1054.40 L458.37,1057.45 L459.02,1060.48 L459.67,1063.47 L460.32,1066.45 L460.97,1069.39 L461.62,1072.31 L462.27,1075.20 L462.92,1078.07 L463.57,1080.92 L464.22,1083.74 L464.87,1086.53 L465.52,1089.30 L466.17,1092.05 L466.82,1094.77 L467.47,1097.47 L468.12,1100.15 L468.77,1102.80 L469.42,1105.43 L470.07,1108.04 L470.72,1110.62 L471.37,1113.18 L472.02,1115.72 L472.67,1118.24 L473.32,1120.73 L473.97,1123.21 L474.61,1125.66 L475.26,1128.09 L475.91,1130.50 L476.56,1132.89 L477.21,1135.26 L477.86,1137.60 L478.51,1139.93 L479.16,1142.24 L479.81,1144.52 L480.46,1146.79 L481.11,1149.04 L481.76,1151.27 L482.41,1153.47 L483.06,1155.66 L483.71,1157.83 L484.36,1159.99 L485.01,1162.12 L485.66,1164.23 L486.31,1166.33 L486.96,1168.41 L487.61,1170.46 L488.26,1172.51 L488.91,1174.53 L489.56,1176.54 L490.21,1178.53 L490.85,1180.50 L491.50,1182.45 L492.15,1184.39 L492.80,1186.31 L493.45,1188.21 L494.10,1190.10 L494.75,1191.97 L495.40,1193.83 L496.05,1195.66 L496.70,1197.49 L497.35,1199.29 L498.00,1201.09 L498.65,1202.86 L499.30,1204.62 L499.95,1206.37 L500.60,1208.10 L501.25,1209.81 L501.90,1211.51 L502.55,1213.19 L503.20,1214.86 L503.85,1216.52 L504.50,1218.16 L505.15,1219.79 L505.80,1221.40 L506.45,1223.00 L507.09,1224.59 L507.74,1226.16 L508.39,1227.72 L509.04,1229.26 L509.69,1230.79 L510.34,1232.31 L510.99,1233.81 L511.64,1235.30 L512.29,1236.78 L512.94,1238.25 L513.59,1239.70 L514.24,1241.14 L514.89,1242.57 L515.54,1243.98 L516.19,1245.39 L516.84,1246.78 L517.49,1248.15 L518.14,1249.52 L518.79,1250.88 L519.44,1252.22 L520.09,1253.55 L520.74,1254.87 L521.39,1256.18 L522.04,1257.47 L522.69,1258.76 L523.33,1260.03 L523.98,1261.30 L524.63,1262.55 L525.28,1263.79 L525.93,1265.02 L526.58,1266.24 L527.23,1267.45 L527.88,1268.65 L528.53,1269.84 L529.18,1271.02 L529.83,1272.19 L530.48,1273.34 L531.13,1274.49 L531.78,1275.63 L532.43,1276.76 L533.08,1277.88 L533.73,1278.98 L534.38,1280.08 L535.03,1281.17 L535.68,1282.25 L536.33,1283.32 L536.98,1284.38 L537.63,1285.43 L538.28,1286.48 L538.93,1287.51 L539.57,1288.54 L540.22,1289.55 L540.87,1290.56 L541.52,1291.56 L542.17,1292.55 L542.82,1293.53 L543.47,1294.50 L544.12,1295.46 L544.77,1296.42 L545.42,1297.37 L546.07,1298.31 L546.72,1299.24 L547.37,1300.16 L548.02,1301.07 L548.67,1301.98 L549.32,1302.88 L549.97,1303.77 L550.62,1304.65 L551.27,1305.53 L551.92,1306.40 L552.57,1307.26 L553.22,1308.11 L553.87,1308.96 L554.52,1309.80 L555.17,1310.63 L555.81,1311.45 L556.46,1312.27 L557.11,1313.08 L557.76,1313.88 L558.41,1314.67 L559.06,1315.46 L559.71,1316.25 L560.36,1317.02 L561.01,1317.79 L561.66,1318.55 L562.31,1319.30 L562.96,1320.05 L563.61,1320.80 L564.26,1321.53 L564.91,1322.26 L565.56,1322.98 L566.21,1323.70 L566.86,1324.41 L567.51,1325.11 L568.16,1325.81 L568.81,1326.50 L569.46,1327.19 L570.11,1327.87 L570.76,1328.54 L571.41,1329.21 L572.05,1329.87 L572.70,1330.53 L573.35,1331.18 L574.00,1331.83 L574.65,1332.47 L575.30,1333.10 L575.95,1333.73 L576.60,1334.35 L577.25,1334.97 L577.90,1335.58 L578.55,1336.19 L579.20,1336.79 L579.85,1337.39 L580.50,1337.98 L581.15,1338.56 L581.80,1339.15 L582.45,1339.72 L583.10,1340.29 L583.75,1340.86 L584.40,1341.42 L585.05,1341.98 L585.70,1342.53 L586.35,1343.07 L587.00,1343.62 L587.65,1344.15 L588.29,1344.69 L588.94,1345.21 L589.59,1345.74 L590.24,1346.26 L590.89,1346.77 L591.54,1347.28 L592.19,1347.79 L592.84,1348.29 L593.49,1348.78 L594.14,1349.28 L594.79,1349.76 L595.44,1350.25 L596.09,1350.73 L596.74,1351.20 L597.39,1351.67 L598.04,1352.14 L598.69,1352.60 L599.34,1353.06 L599.99,1353.52 L600.64,1353.97 L601.29,1354.42 L601.94,1354.86 L602.59,1355.30 L603.24,1355.74 L603.89,1356.17 L604.53,1356.60 L605.18,1357.02 L605.83,1357.44 L606.48,1357.86 L607.13,1358.27 L607.78,1358.68 L608.43,1359.09 L609.08,1359.49 L609.73,1359.89 L610.38,1360.29 L611.03,1360.68 L611.68,1361.07 L612.33,1361.45 L612.98,1361.83 L613.63,1362.21 L614.28,1362.59 L614.93,1362.96 L615.58,1363.33 L616.23,1363.70 L616.88,1364.06 L617.53,1364.42 L618.18,1364.78 L618.83,1365.13 L619.48,1365.48 L620.13,1365.83 L620.77,1366.17 L621.42,1366.51 L622.07,1366.85 L622.72,1367.19 L623.37,1367.52 L624.02,1367.85 L624.67,1368.17 L625.32,1368.50 L625.97,1368.82 L626.62,1369.14 L627.27,1369.45 L627.92,1369.77 L628.57,1370.08 L629.22,1370.38 L629.87,1370.69 L630.52,1370.99 L631.17,1371.29 L631.82,1371.59 L632.47,1371.88 L633.12,1372.17 L633.77,1372.46 L634.42,1372.75 L635.07,1373.03 L635.72,1373.31 L636.37,1373.59 L637.01,1373.87 L637.66,1374.14 L638.31,1374.42 L638.96,1374.69 L639.61,1374.95 L640.26,1375.22 L640.91,1375.48 L641.56,1375.74 L642.21,1376.00 L642.86,1376.25 L643.51,1376.51 L644.16,1376.76 L644.81,1377.01 L645.46,1377.26 L646.11,1377.50 L646.76,1377.74 L647.41,1377.98 L648.06,1378.22 L648.71,1378.46 L649.36,1378.69 L650.01,1378.93 L650.66,1379.16 L651.31,1379.39 L651.96,1379.61 L652.61,1379.84 L653.25,1380.06 L653.90,1380.28 L654.55,1380.50 L655.20,1380.72 L655.85,1380.93 L656.50,1381.14 L657.15,1381.35 L657.80,1381.56 L658.45,1381.77 L659.10,1381.98 L659.75,1382.18 L660.40,1382.38 L661.05,1382.58 L661.70,1382.78 L662.35,1382.98 L663.00,1383.17 L663.65,1383.37 L664.30,1383.56 L664.95,1383.75 L665.60,1383.94 L666.25,1384.13 L666.90,1384.31 L667.55,1384.49 L668.20,1384.68 L668.85,1384.86 L669.49,1385.04 L670.14,1385.21 L670.79,1385.39 L671.44,1385.56 L672.09,1385.74 L672.74,1385.91 L673.39,1386.08 L674.04,1386.25 L674.69,1386.41 L675.34,1386.58 L675.99,1386.74 L676.64,1386.90 L677.29,1387.07 L677.94,1387.22 L678.59,1387.38 L679.24,1387.54 L679.89,1387.70 L680.54,1387.85 L681.19,1388.00 L681.84,1388.15 L682.49,1388.30 L683.14,1388.45 L683.79,1388.60 L684.44,1388.75 L685.09,1388.89 L685.73,1389.04 L686.38,1389.18 L687.03,1389.32 L687.68,1389.46 L688.33,1389.60 L688.98,1389.74 L689.63,1389.87 L690.28,1390.01 L690.93,1390.14 L691.58,1390.28 L692.23,1390.41 L692.88,1390.54 L693.53,1390.67 L694.18,1390.80 L694.83,1390.92 L695.48,1391.05 L696.13,1391.18 L696.78,1391.30 L697.43,1391.42 L698.08,1391.54 L698.73,1391.67 L699.38,1391.78 L700.03,1391.90 L700.68,1392.02 L701.33,1392.14 L701.97,1392.25 L702.62,1392.37 L703.27,1392.48 L703.92,1392.59 L704.57,1392.71 L705.22,1392.82 L705.87,1392.93 L706.52,1393.04 L707.17,1393.14 L707.82,1393.25 L708.47,1393.36 L709.12,1393.46 L709.77,1393.57 L710.42,1393.67 L711.07,1393.77 L711.72,1393.87 L712.37,1393.97 L713.02,1394.07 L713.67,1394.17 L714.32,1394.27 L714.97,1394.37 L715.62,1394.46 L716.27,1394.56 L716.92,1394.65 L717.57,1394.75 L718.21,1394.84 L718.86,1394.93 L719.51,1395.02 L720.16,1395.11 L720.81,1395.20 L721.46,1395.29 L722.11,1395.38 L722.76,1395.47 L723.41,1395.56 L724.06,1395.64 L724.71,1395.73 L731.21,1396.54 L737.70,1397.28 L744.20,1397.97 L750.69,1398.59 L757.19,1399.16 L763.69,1399.69 L770.18,1400.17 L776.68,1400.61 L783.17,1401.02 L789.67,1401.39 L796.17,1401.73 L802.66,1402.04 L809.16,1402.32 L815.65,1402.58 L822.15,1402.82 L828.65,1403.04 L835.14,1403.24 L841.64,1403.43 L848.13,1403.60 L854.63,1403.75 L861.13,1403.89 L867.62,1404.02 L874.12,1404.14 L880.61,1404.25 L887.11,1404.35 L893.61,1404.44 L900.10,1404.53 L906.60,1404.61 L913.09,1404.68 L919.59,1404.74 L926.09,1404.80 L932.58,1404.85 L939.08,1404.90 L945.57,1404.95 L952.07,1404.99 L958.57,1405.03 L965.06,1405.06 L971.56,1405.10 L978.05,1405.13 L984.55,1405.15 L991.05,1405.18 L997.54,1405.20 L1004.04,1405.22 L1010.53,1405.24 L1017.03,1405.26 L1023.53,1405.27 L1030.02,1405.29 L1036.52,1405.30 L1043.01,1405.31 L1049.51,1405.33 L1056.01,1405.34 L1062.50,1405.35 L1069.00,1405.35 L1075.49,1405.36 L1081.99,1405.37 L1088.49,1405.38 L1094.98,1405.38 L1101.48,1405.39 L1107.97,1405.39 L1114.47,1405.40 L1120.97,1405.40 L1127.46,1405.41 L1133.96,1405.41 L1140.45,1405.41 L1146.95,1405.42 L1153.45,1405.42 L1159.94,1405.42 L1166.44,1405.42 L1172.93,1405.43 L1179.43,1405.43 L1185.93,1405.43 L1192.42,1405.43 L1198.92,1405.43 L1205.41,1405.43 L1211.91,1405.44 L1218.41,1405.44 L1224.90,1405.44 L1231.40,1405.44 L1237.89,1405.44 L1244.39,1405.44 L1250.89,1405.44 L1257.38,1405.44 L1263.88,1405.44 L1270.37,1405.44 L1276.87,1405.44 L1283.37,1405.44 L1289.86,1405.45 L1296.36,1405.45 L1302.85,1405.45 L1309.35,1405.45 L1315.85,1405.45 L1322.34,1405.45 L1328.84,1405.45 L1335.33,1405.45 L1341.83,1405.45 L1348.33,1405.45 L1354.82,1405.45 L1361.32,1405.45 L1367.81,1405.45 L1374.31,1405.45 L1380.81,1405.45 L1387.30,1405.45 L1393.80,1405.45 L1400.29,1405.45 L1406.79,1405.45 L1413.29,1405.45 L1419.78,1405.45 L1426.28,1405.45 L1432.77,1405.45 L1439.27,1405.45 L1445.77,1405.45 L1452.26,1405.45 L1458.76,1405.45 L1465.25,1405.45 L1471.75,1405.45 L1478.25,1405.45 L1484.74,1405.45 L1491.24,1405.45 L1497.73,1405.45 L1504.23,1405.45 L1510.73,1405.45 L1517.22,1405.45 L1523.72,1405.45 L1530.21,1405.45 L1536.71,1405.45 L1543.21,1405.45 L1549.70,1405.45 L1556.20,1405.45 L1562.69,1405.45 L1569.19,1405.45 L1575.69,1405.45 L1582.18,1405.45 L1588.68,1405.45 L1595.17,1405.45 L1601.67,1405.45 L1608.17,1405.45 L1614.66,1405.45 L1621.16,1405.45 L1627.65,1405.45 L1634.15,1405.45 L1640.65,1405.45 L1647.14,1405.45 L1653.64,1405.45 L1660.13,1405.45 L1666.63,1405.45 L1673.13,1405.45 L1679.62,1405.45 L1686.12,1405.45 L1692.61,1405.45 L1699.11,1405.45 L1705.61,1405.45 L1712.10,1405.45 L1718.60,1405.45 L1725.09,1405.45 L1731.59,1405.45 L1738.09,1405.45 L1744.58,1405.45 L1751.08,1405.45 L1757.57,1405.45 L1764.07,1405.45 L1770.57,1405.45 L1777.06,1405.45 L1783.56,1405.45 L1790.05,1405.45 L1796.55,1405.45 L1803.05,1405.45 L1809.54,1405.45 L1816.04,1405.45 L1822.53,1405.45 L1829.03,1405.45 L1835.53,1405.45 L1842.02,1405.45 L1848.52,1405.45 L1855.01,1405.45 L1861.51,1405.45 L1868.01,1405.45 L1874.50,1405.45 L1881.00,1405.45 L1887.49,1405.45 L1893.54,1405.45" fill="none" stroke="#005E00" stroke-width="8" stroke-linecap="round" stroke-linejoin="round"/>
</g>
<rect x="168" y="19" width="7" height="1572" fill="#000"/>
<rect x="168" y="19" width="1956" height="7" fill="#000"/>
<rect x="2118" y="19" width="6" height="1572" fill="#000"/>
<rect x="168" y="1584" width="1956" height="7" fill="#000"/>
<g id="ticks" filter="url(#bin)">
<rect x="331" y="1591" width="7" height="28" fill="#000"/>
<text transform="translate(334.5 1692) scale(1 1.025)" text-anchor="middle" class="tl">0</text>
<rect x="656" y="1591" width="7" height="28" fill="#000"/>
<text transform="translate(659.3 1692) scale(1 1.025)" text-anchor="middle" class="tl">5</text>
<rect x="981" y="1591" width="7" height="28" fill="#000"/>
<text transform="translate(984.1 1692) scale(1 1.025)" text-anchor="middle" class="tl">10</text>
<rect x="950.68" y="1685" width="13.32" height="9" fill="#fff" shape-rendering="crispEdges"/>
<rect x="970" y="1685" width="12.35" height="9" fill="#fff" shape-rendering="crispEdges"/>
<rect x="1305" y="1591" width="7" height="28" fill="#000"/>
<text transform="translate(1308.9 1692) scale(1 1.025)" text-anchor="middle" class="tl">15</text>
<rect x="1275.48" y="1685" width="13.52" height="9" fill="#fff" shape-rendering="crispEdges"/>
<rect x="1295" y="1685" width="12.15" height="9" fill="#fff" shape-rendering="crispEdges"/>
<rect x="1630" y="1591" width="7" height="28" fill="#000"/>
<text transform="translate(1633.7 1692) scale(1 1.025)" text-anchor="middle" class="tl">20</text>
<rect x="1955" y="1591" width="7" height="28" fill="#000"/>
<text transform="translate(1958.5 1692) scale(1 1.025)" text-anchor="middle" class="tl">25</text>
<rect x="168" y="1591" width="7" height="12" fill="#000"/>
<rect x="493" y="1591" width="7" height="12" fill="#000"/>
<rect x="818" y="1591" width="7" height="12" fill="#000"/>
<rect x="1143" y="1591" width="7" height="12" fill="#000"/>
<rect x="1468" y="1591" width="7" height="12" fill="#000"/>
<rect x="1793" y="1591" width="7" height="12" fill="#000"/>
<rect x="2118" y="1591" width="6" height="12" fill="#000"/>
</g>
<g id="labels" filter="url(#bin)">
<text transform="translate(1146.3 1820.0) scale(1 1.025)" text-anchor="middle" class="b">Time (h)</text>
<text transform="translate(104 803.8) rotate(-90) scale(1 1.025)" text-anchor="middle" class="b">CC(C=O) / Urethane (C=O)</text>
<text transform="translate(1685.0 289.8) scale(1 1.045)" text-anchor="start" class="b">A/CC</text>
<text transform="translate(1889.5 392.7) scale(1 1.045)" text-anchor="middle" class="b">0.9</text>
<text transform="translate(1889.5 495.0) scale(1 1.045)" text-anchor="middle" class="b">1</text>
<rect x="1870.53" y="485" width="15.47" height="12" fill="#fff" shape-rendering="crispEdges"/>
<rect x="1897" y="485" width="14.32" height="12" fill="#fff" shape-rendering="crispEdges"/>
<text transform="translate(1889.5 598.0) scale(1 1.045)" text-anchor="middle" class="b">1.1</text>
<rect x="1836.68" y="588" width="15.32" height="12" fill="#fff" shape-rendering="crispEdges"/>
<rect x="1863" y="588" width="14.46" height="12" fill="#fff" shape-rendering="crispEdges"/>
<rect x="1904.39" y="588" width="15.61" height="12" fill="#fff" shape-rendering="crispEdges"/>
<rect x="1931" y="588" width="14.18" height="12" fill="#fff" shape-rendering="crispEdges"/>
<text transform="translate(1889.5 700.7) scale(1 1.045)" text-anchor="middle" class="b">1.2</text>
<rect x="1836.68" y="690" width="15.32" height="12" fill="#fff" shape-rendering="crispEdges"/>
<rect x="1863" y="690" width="14.46" height="12" fill="#fff" shape-rendering="crispEdges"/>
</g>
<g id="legend" shape-rendering="crispEdges">
<rect x="1701.0" y="347.0" width="36.0" height="36.0" fill="#603800"/>
<circle cx="1718.5" cy="467.0" r="19.75" fill="#FF9015"/>
<polygon points="1718.50,543.60 1740.96,582.80 1696.04,582.80" fill="#8DB748" stroke="#8DB748" stroke-width="2.4" stroke-linejoin="bevel"/>
<polygon points="1696.04,660.20 1740.96,660.20 1718.50,698.90" fill="#005A00" stroke="#005A00" stroke-width="2.4" stroke-linejoin="bevel"/>
</g>
</svg>
</body></html>
